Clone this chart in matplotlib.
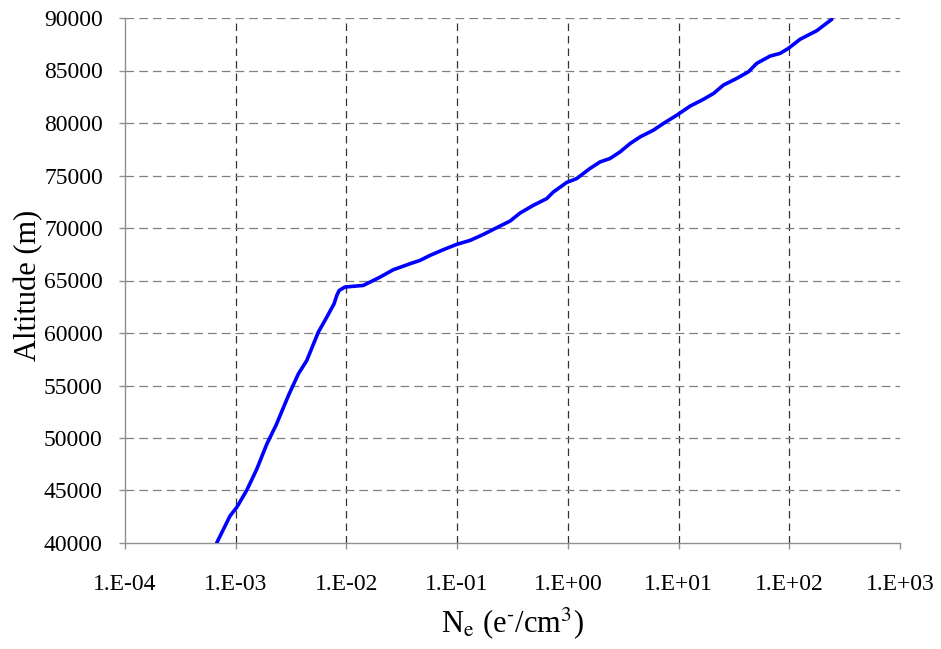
import numpy as np
import matplotlib.pyplot as plt

# electron density profile
ne = [6.73e-4, 8.89e-4, 1.02e-3, 1.26e-3, 1.55e-3, 1.91e-3, 2.34e-3, 2.99e-3,
      3.68e-3, 4.38e-3, 5.57e-3, 6.64e-3, 7.73e-3, 8.20e-3, 8.60e-3, 9.70e-3, 1.42e-2,
      2.01e-2, 2.65e-2, 3.76e-2, 4.62e-2, 5.69e-2, 7.50e-2, 9.91e-2, 0.131,
      0.173, 0.228, 0.301, 0.370, 0.488, 0.644, 0.740, 0.977, 1.20, 1.58,
      1.95, 2.40, 2.96, 3.65, 4.49, 5.92, 7.29, 9.64, 12.7, 16.7, 20.7, 25.4,
      33.5, 42.8, 50.8, 67.1, 82.6, 98.2, 125, 177, 242]
altitude = [40000, 42585, 43380, 45035, 47040, 49425, 51335, 54035,
            56105, 57375, 60075, 61505, 62780, 63600, 64050, 64380, 64530,
            65320, 66025, 66600, 66915, 67390, 67935, 68440, 68820,
            69395, 70030, 70665, 71425, 72160, 72800, 73430, 74340, 74705, 75660,
            76290, 76615, 77245, 78045, 78675, 79315, 79955, 80745, 81605, 82245,
            82815, 83610, 84245, 84880, 85680, 86375, 86630, 87110, 87970, 88790, 89875]

xticks = [1e-4, 1e-3, 1e-2, 1e-1, 1e0, 1e1, 1e2, 1e3]
xticklabels = ['1.E-04', '1.E-03', '1.E-02', '1.E-01',
               '1.E+00', '1.E+01', '1.E+02', '1.E+03']
yticks = list(range(40000, 90001, 5000))

plt.rcParams['font.family'] = ['Liberation Serif', 'DejaVu Serif']
plt.rcParams['mathtext.fontset'] = 'stix'

fig = plt.figure(figsize=(9.41, 6.49), dpi=100)
ax = fig.add_axes([125 / 941, 1 - 543 / 649, 775 / 941, 525 / 649])

ax.plot(ne, altitude, color='#0000ff', lw=2.6, solid_capstyle='round',
        solid_joinstyle='round', zorder=3)

ax.set_xscale('log')
ax.set_xlim(1e-4, 1e3)
ax.set_ylim(40000, 90000)
ax.set_xticks(xticks)
ax.set_xticklabels(xticklabels)
ax.xaxis.set_minor_locator(plt.NullLocator())
ax.set_yticks(yticks)

# grid: dark dashes vertical, grey dashes horizontal
for x in xticks[1:-1]:
    ax.axvline(x, color='#333333', lw=0.9, ls=(0, (6, 4)), zorder=1)
for y in yticks[1:]:
    ax.axhline(y, color='#808080', lw=0.9, ls=(0, (7, 4)), zorder=1)

for s in ['top', 'right']:
    ax.spines[s].set_visible(False)
for s in ['left', 'bottom']:
    ax.spines[s].set_color('#909090')
    ax.spines[s].set_linewidth(1.0)

ax.tick_params(axis='both', direction='out', length=4, width=1.0,
               color='#909090', labelsize=17)
ax.tick_params(axis='x', pad=18)
ax.tick_params(axis='y', pad=12)

ax.set_xlabel(r'N$_\mathrm{e}$ (e$^{\text{-}}$/cm$^{3}$)', fontsize=22, labelpad=8)
ax.set_ylabel('Altitude (m)', fontsize=22)
ax.yaxis.set_label_coords(-0.105, 0.49)

fig.savefig('out.png', dpi=100)
